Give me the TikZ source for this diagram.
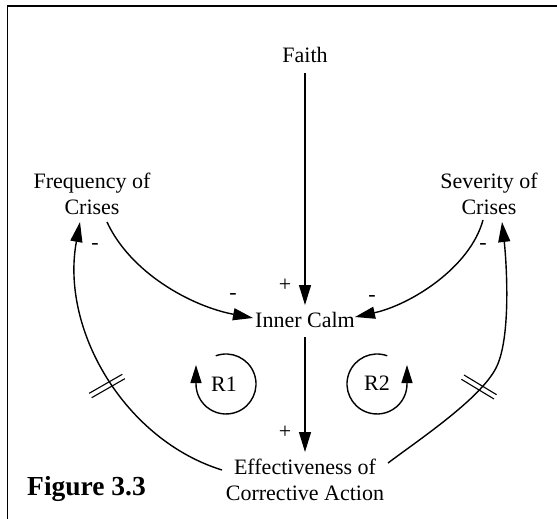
\documentclass[tikz,border=0pt]{standalone}
\usepackage{fontspec}
\setmainfont{Liberation Serif}
\usetikzlibrary{arrows.meta}
\begin{document}
\begin{tikzpicture}[x=1pt,y=-1pt,
  var/.style={font=\fontsize{22}{26}\selectfont, align=center, inner sep=0pt},
  sign/.style={font=\fontsize{22}{26}\selectfont, inner sep=0pt},
  link/.style={line width=1.4pt, -{Triangle[length=20pt,width=12pt]}},
  loopar/.style={line width=1.4pt, -{Triangle[length=18pt,width=11pt]}},
  hatch/.style={line width=1.1pt},
  frame/.style={line width=1.6pt}]
\useasboundingbox (0,0) rectangle (557,519);
\draw[frame] (7.5,519) -- (7.5,6) -- (557,6);
% variables
\node[var] (faith) at (305,55) {Faith};
\node[var] (calm) at (305,320) {Inner Calm};
\node[var] (freq) at (92,194) {Frequency of\\Crises};
\node[var] (sev) at (489,194) {Severity of\\Crises};
\node[var] (eff) at (305,480) {Effectiveness of\\Corrective Action};
% links
\draw[link] ([shift={(0,18)}]faith.center) -- ([shift={(0,-15)}]calm.center);
\draw[link] ([shift={(0,17)}]calm.center) -- ([shift={(0,-28)}]eff.center);
\draw[link] ([shift={(15,28)}]freq.center) .. controls (130,272) and (190,306) .. ([shift={(-52,-2)}]calm.center);
\draw[link] ([shift={(-6,26)}]sev.center) .. controls (470,268) and (410,305) .. ([shift={(50,-3)}]calm.center);
\draw[link] ([shift={(-83,-10)}]eff.center) .. controls (125,440) and (60,330) .. ([shift={(-12,28)}]freq.center);
\draw[link] ([shift={(83,-17)}]eff.center) .. controls (420,439) and (480,399) .. (496,368) .. controls (512,337) and (506,257) .. ([shift={(13,28)}]sev.center);
% delay marks
\draw[hatch] (89.2,393.3) -- (122.3,374.3);
\draw[hatch] (91.7,397.7) -- (124.8,378.7);
\draw[hatch] (464,375) -- (496.6,394.7);
\draw[hatch] (461.4,379.3) -- (494,399);
% polarity signs
\node[sign] (p1) at (285,285) {+};
\node[sign] (m1) at (233,296) {-};
\node[sign] (m2) at (372,298) {-};
\node[sign] (m3) at (95,246) {-};
\node[sign] (m4) at (483,246) {-};
\node[sign] (p2) at (285,432) {+};
% loops
\draw[loopar] (226,384) ++(250:30) arc[start angle=250, end angle=540, radius=30] -- ++(0,-19);
\draw[loopar] (377,384) ++(290:30) arc[start angle=290, end angle=0, radius=30] -- ++(0,-19);
\node[sign] (r1) at (224,384) {R1};
\node[sign] (r2) at (377,383) {R2};
% caption
\node[font=\fontsize{27.5}{30}\selectfont\bfseries, anchor=base west, inner sep=0pt] (fig) at (27,495) {Figure 3.3};
\end{tikzpicture}
\end{document}
